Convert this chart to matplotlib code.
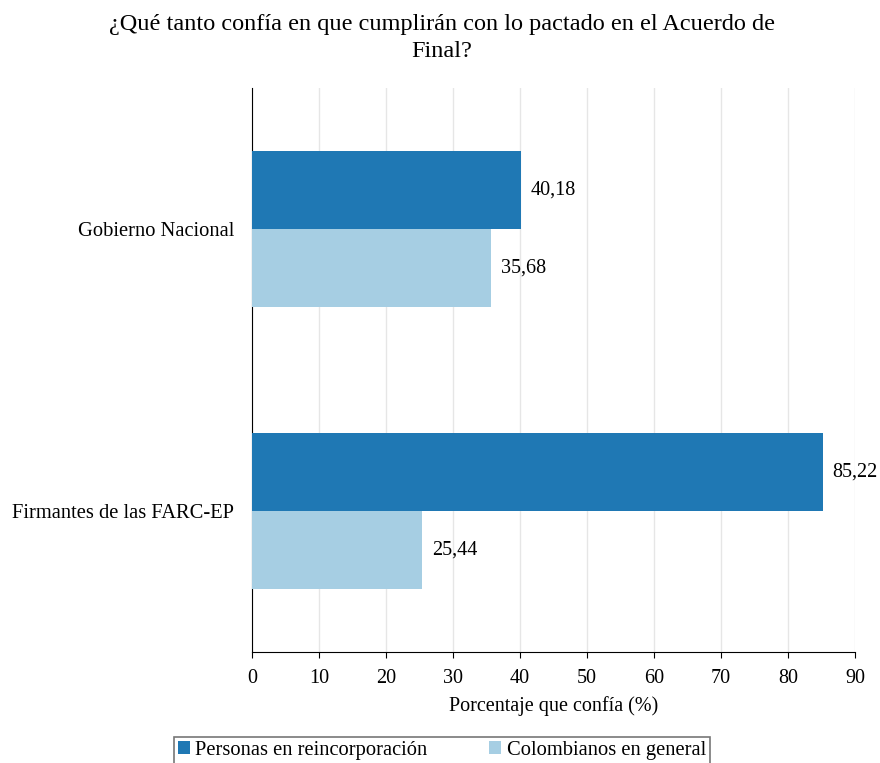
import matplotlib.pyplot as plt
import numpy as np

plt.rcParams['font.family'] = ['Liberation Serif', 'DejaVu Serif']

categorias = ['Firmantes de las FARC-EP', 'Gobierno Nacional']
reincorporacion = [85.22, 40.18]
general = [25.44, 35.68]
series = ['Personas en reincorporación', 'Colombianos en general']

fig = plt.figure(figsize=(8.8, 7.63), dpi=100)
ax = fig.add_axes([0.2864, 0.1455, 0.6852, 0.7392])

y = np.arange(len(categorias))
h = 0.277
b1 = ax.barh(y + h/2, reincorporacion, height=h, color='#1f78b4', label=series[0], zorder=3)
b2 = ax.barh(y - h/2, general, height=h, color='#a6cee3', label=series[1], zorder=3)

for bars in (b1, b2):
    for r in bars:
        v = r.get_width()
        ax.annotate(f'{v:.2f}'.replace('.', ','), (v, r.get_y() + r.get_height()/2),
                    xytext=(7, 0), textcoords='offset points', va='center', ha='left', fontsize=14.5)

ax.set_xlim(0, 90)
ax.set_ylim(-0.5, 1.5)
ax.set_xticks(range(0, 91, 10))
ax.set_yticks(y)
ax.set_yticklabels(categorias, fontsize=14.8)
ax.tick_params(axis='y', length=0, pad=13)
ax.tick_params(axis='x', labelsize=14.5, length=4, direction='out', pad=8)
ax.grid(axis='x', color='#e6e6e6', linewidth=1, zorder=0)
ax.spines['top'].set_visible(False)
ax.spines['right'].set_visible(False)
ax.spines['left'].set_color('black')
ax.spines['bottom'].set_color('black')
ax.set_xlabel('Porcentaje que confía (%)', fontsize=14.5, labelpad=6)

fig.suptitle('¿Qué tanto confía en que cumplirán con lo pactado en el Acuerdo de\nFinal?',
             fontsize=17.5, x=0.502, y=0.982, va='top', linespacing=1.4)

leg = fig.legend(loc='upper center', bbox_to_anchor=(0.502, 0.034), ncol=2, fontsize=14.8,
                 frameon=True, fancybox=False, edgecolor='#555555', handlelength=0.6,
                 handleheight=0.6, handletextpad=0.25, columnspacing=3.0, borderpad=0.2,
                 borderaxespad=0)
leg.get_frame().set_linewidth(1.2)

fig.savefig('out.png', dpi=100)
